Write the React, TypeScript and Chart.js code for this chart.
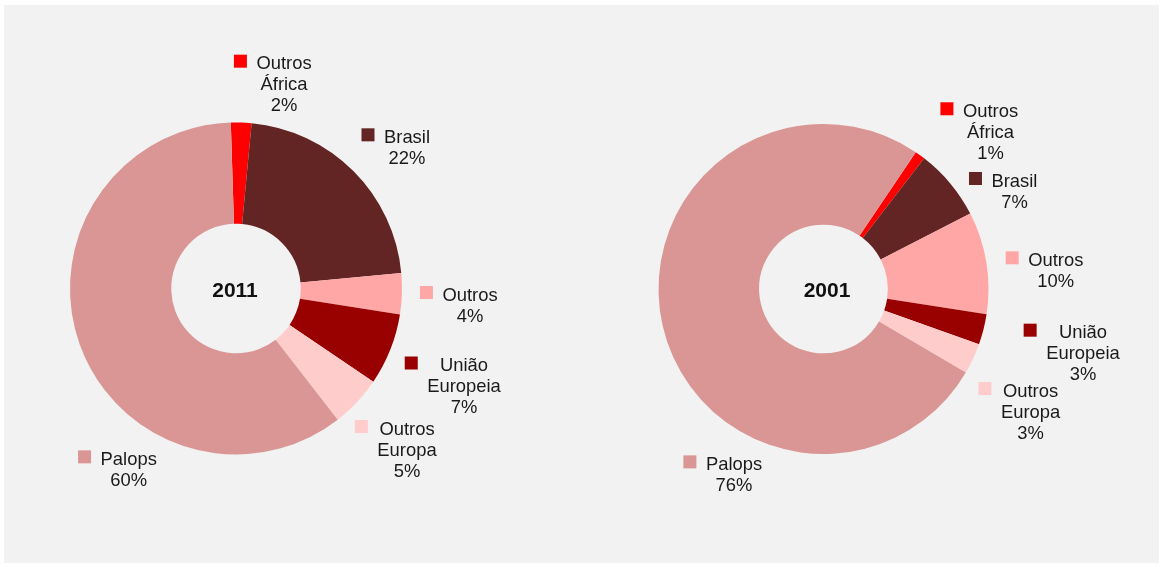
import React, { useEffect, useRef } from 'react';
import { Chart, registerables } from 'chart.js';

Chart.register(...registerables);

// ---- data ----
const categories = ['Outros África', 'Brasil', 'Outros', 'União Europeia', 'Outros Europa', 'Palops'];
const labelLines = [['Outros', 'África'], ['Brasil'], ['Outros'], ['União', 'Europeia'], ['Outros', 'Europa'], ['Palops']];
const values2011 = [2, 22, 4, 7, 5, 60];
const values2001 = [1, 7, 10, 3, 3, 76];
const years = ['2011', '2001'];

// ---- style ----
const sliceColors = ['#ff0000', '#632523', '#ffa6a6', '#990000', '#ffcccc', '#d99694'];
const FONT = '"Liberation Sans", Arial, sans-serif';
const LABEL_SIZE = 18.4;
const LINE_H = 21;
const SQ = 13;
const SQ_GAP = 9.5;

// label offsets relative to each slice's outer mid point (dx, dy)
const offsets2011 = [[42.8, -59.9], [53.6, -34.8], [68.1, 0.3], [73.7, 14.9], [50, 25.9], [48.9, 113.6]];
const offsets2001 = [[70.5, -44.9], [64.2, -3.4], [69.4, -3.3], [99.5, 2.2], [57.5, 31.3], [71.4, 137.8]];

function makeLabelPlugin(offsets: number[][], centerText: string, centerDx: number, centerDy: number) {
  return {
    id: 'sliceLabels',
    afterDatasetsDraw(chart: any) {
      const ctx = chart.ctx as CanvasRenderingContext2D;
      const meta = chart.getDatasetMeta(0);
      const ds = chart.data.datasets[0].data as number[];
      ctx.save();
      meta.data.forEach((arc: any, i: number) => {
        const p = arc.getProps(['x', 'y', 'startAngle', 'endAngle', 'outerRadius'], true);
        const mid = (p.startAngle + p.endAngle) / 2;
        const ax = p.x + Math.cos(mid) * p.outerRadius + offsets[i][0];
        const ay = p.y + Math.sin(mid) * p.outerRadius + offsets[i][1];
        const lines = [...labelLines[i], ds[i] + '%'];
        ctx.font = `${LABEL_SIZE}px ${FONT}`;
        const maxW = Math.max(...lines.map((l) => ctx.measureText(l).width));
        const left = ax - maxW / 2;
        ctx.fillStyle = sliceColors[i];
        ctx.fillRect(left - SQ_GAP - SQ, ay - 1.5 - SQ / 2, SQ, SQ);
        ctx.fillStyle = '#1a1a1a';
        ctx.textAlign = 'center';
        ctx.textBaseline = 'alphabetic';
        lines.forEach((l, j) => ctx.fillText(l, ax, ay + j * LINE_H + 0.358 * LABEL_SIZE));
      });
      const a0 = meta.data[0];
      ctx.font = `bold 21px ${FONT}`;
      ctx.fillStyle = '#111111';
      ctx.textAlign = 'center';
      ctx.textBaseline = 'alphabetic';
      ctx.fillText(centerText, a0.x + centerDx, a0.y + centerDy + 0.358 * 21);
      ctx.restore();
    },
  };
}

type DonutProps = {
  values: number[];
  offsets: number[][];
  year: string;
  left: number;
  width: number;
  height: number;
  padding: { left: number; top: number; right: number; bottom: number };
  rotation: number;
  centerDx: number;
  centerDy: number;
};

function Donut(props: DonutProps) {
  const ref = useRef<HTMLCanvasElement | null>(null);
  useEffect(() => {
    if (!ref.current) return;
    const chart = new Chart(ref.current, {
      type: 'doughnut',
      data: {
        labels: categories,
        datasets: [
          {
            data: props.values,
            backgroundColor: sliceColors,
            borderWidth: 0,
            hoverOffset: 0,
          },
        ],
      },
      options: {
        responsive: false,
        animation: false,
        events: [],
        rotation: props.rotation,
        cutout: '39%',
        layout: { padding: props.padding },
        plugins: { legend: { display: false }, tooltip: { enabled: false } },
      },
      plugins: [makeLabelPlugin(props.offsets, props.year, props.centerDx, props.centerDy)],
    } as any);
    return () => chart.destroy();
  }, []);
  return (
    <canvas
      ref={ref}
      width={props.width}
      height={props.height}
      style={{ position: 'absolute', left: props.left, top: 0, width: props.width, height: props.height }}
    />
  );
}

export default function App() {
  return (
    <div style={{ position: 'absolute', left: 0, top: 0, width: 1163, height: 567, background: '#ffffff', overflow: 'hidden' }}>
      <div style={{ position: 'absolute', left: 4, top: 5, width: 1155, height: 558, background: '#f2f2f2' }} />
      <Donut
        values={values2011}
        offsets={offsets2011}
        year={years[0]}
        left={0}
        width={582}
        height={567}
        padding={{ left: 70, top: 122.5, right: 180, bottom: 112.5 }}
        rotation={-1.8}
        centerDx={-1}
        centerDy={1}
      />
      <Donut
        values={values2001}
        offsets={offsets2001}
        year={years[1]}
        left={582}
        width={581}
        height={567}
        padding={{ left: 76.5, top: 124, right: 174.5, bottom: 113 }}
        rotation={34}
        centerDx={3.5}
        centerDy={0.5}
      />
    </div>
  );
}
